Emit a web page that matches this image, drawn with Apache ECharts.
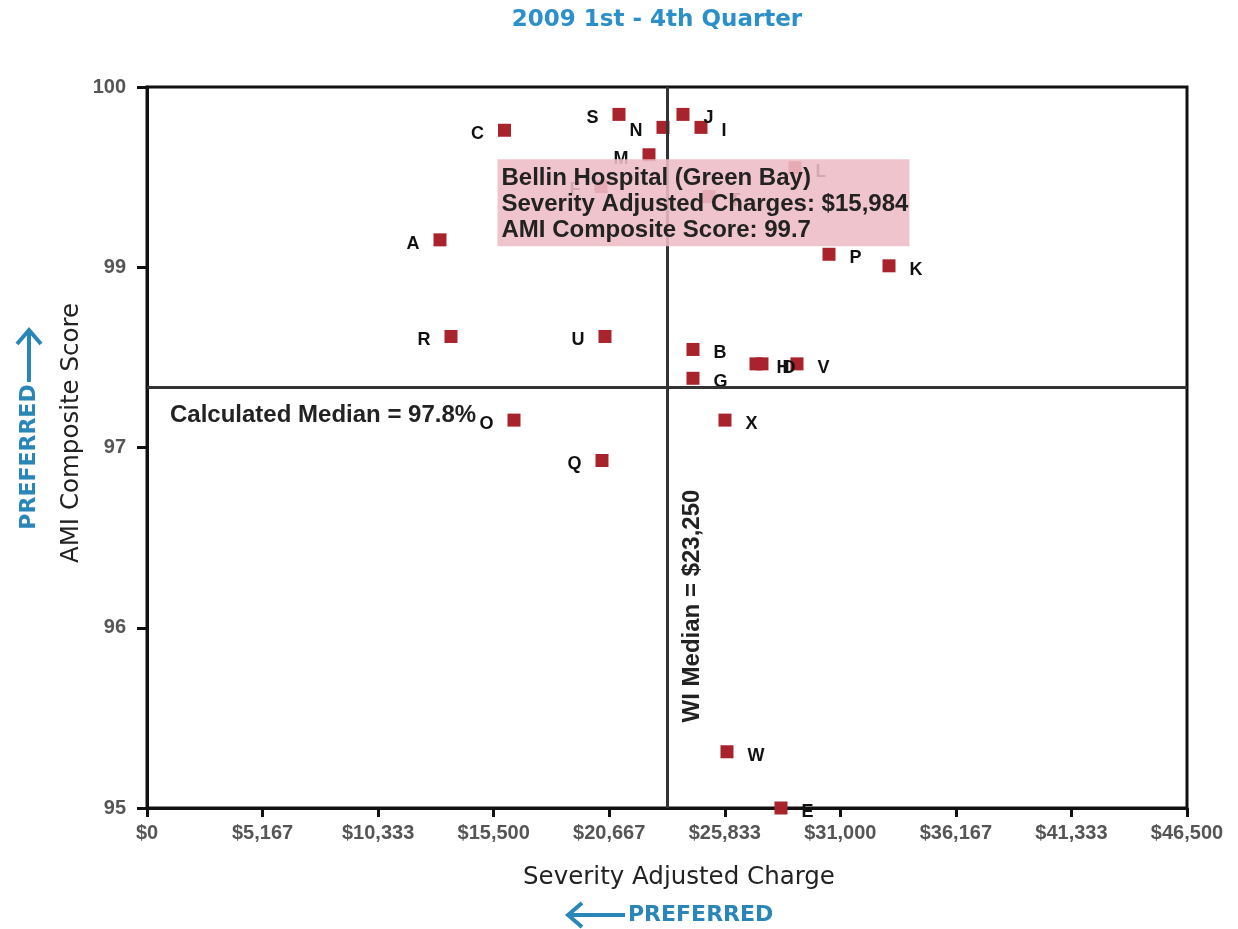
<!DOCTYPE html>
<html><head><meta charset="utf-8">
<script src="https://cdn.jsdelivr.net/npm/echarts@6/dist/echarts.min.js"></script>
<style>html,body{margin:0;padding:0;background:#fff}#c{width:1238px;height:929px}</style>
</head><body><div id="c"></div>
<script>
// ---------- DATA ----------
const categories = ['A','B','C','D','E','F','G','H','I','J','K','L','M','N','O','P','Q','R','S','T','U','V','W','X'];
const charges = [13100,24412,15984,27497,28347,20299,24412,27229,24770,23965,33176,28973,22445,23071,16409,30493,20343,13592,21103,25127,20477,29062,25932,25843];
const scores  = [98.94,98.18,99.70,98.08,95.00,99.31,97.98,98.08,99.72,99.81,98.76,99.44,99.53,99.72,97.69,98.84,97.41,98.27,99.81,99.24,98.27,98.08,95.39,97.69];
const xTickLabels = ['$0','$5,167','$10,333','$15,500','$20,667','$25,833','$31,000','$36,167','$41,333','$46,500'];
const yTickValues = [95, 96.25, 97.5, 98.75, 100];
const yTickLabels = ['95','96','97','99','100'];
const wiMedianCharge = 23250;
const calcMedianScore = 97.92;
const medianYText = 'Calculated Median = 97.8%';
const medianXText = 'WI Median = $23,250';
const highlighted = 'C';
const highlightName = 'Bellin Hospital (Green Bay)';
const titleText = '2009 1st - 4th Quarter';
const xAxisTitle = 'Severity Adjusted Charge';
const yAxisTitle = 'AMI Composite Score';
const preferredText = 'PREFERRED';

// ---------- STYLE ----------
const leftLabelled = new Set(['A','C','F','M','N','O','Q','R','S','U']);
const xMax = 46500, xInterval = 46500/9;

const chart = echarts.init(document.getElementById('c'), null, {renderer:'canvas'});

const seriesData = categories.map((c,i)=>({
  name:c, value:[charges[i], scores[i]],
  label:{position: leftLabelled.has(c) ? 'left' : 'right'}
}));

chart.setOption({
  animation:false,
  backgroundColor:'#fff',
  grid:{left:147, right:51, top:87, bottom:121, show:true, borderColor:'#111', borderWidth:3, containLabel:false},
  xAxis:{
    type:'value', min:0, max:xMax, interval:xInterval,
    axisLine:{show:true, lineStyle:{color:'#111', width:3}},
    axisTick:{show:true, inside:false, length:9, lineStyle:{color:'#111', width:3}},
    splitLine:{show:false},
    axisLabel:{margin:15, color:'#555', fontFamily:'Liberation Sans', fontWeight:'bold', fontSize:20,
      formatter:(v)=>{const i=Math.round(v/xInterval); return xTickLabels[i]!==undefined?xTickLabels[i]:'';}}
  },
  yAxis:{
    type:'value', min:95, max:100, interval:1.25,
    axisLine:{show:true, lineStyle:{color:'#111', width:3}},
    axisTick:{show:true, inside:false, length:10, lineStyle:{color:'#111', width:3}},
    splitLine:{show:false},
    axisLabel:{margin:21, color:'#555', fontFamily:'Liberation Sans', fontWeight:'bold', fontSize:20,
      formatter:(v)=>{const i=yTickValues.findIndex(t=>Math.abs(t-v)<1e-6); return i>=0?yTickLabels[i]:'';}}
  },
  series:[{
    type:'scatter', symbol:'rect', symbolSize:13,
    itemStyle:{color:'#a8232b', opacity:1},
    data:seriesData,
    label:{show:true, formatter:'{b}', distance:14, offset:[0,4], color:'#111',
      fontFamily:'Liberation Sans', fontWeight:'bold', fontSize:18},
    markLine:{
      silent:true, symbol:'none', animation:false,
      lineStyle:{color:'#333', width:3, type:'solid'},
      label:{show:false},
      data:[{xAxis:wiMedianCharge},{yAxis:calcMedianScore}]
    },
    z:3
  }]
});

const mx = chart.convertToPixel({gridIndex:0},[wiMedianCharge, 95]);
const my = chart.convertToPixel({gridIndex:0},[0, calcMedianScore]);
const hi = categories.indexOf(highlighted);
const hp = chart.convertToPixel({gridIndex:0},[charges[hi], scores[hi]]);
const fmtMoney = v => '$' + v.toLocaleString('en-US');

const blue = '#2a86b8';
const boxX = hp[0]-7, boxY = hp[1]+29;
const tipFont = 'bold 24px "Liberation Sans"';

chart.setOption({
  graphic:[
    {type:'text', x:657, y:20, style:{text:titleText, font:'bold 23px "DejaVu Sans"', fill:'#2b8fc9', align:'center', verticalAlign:'middle'}},
    {type:'text', x:679, y:878, style:{text:xAxisTitle, font:'24.5px "DejaVu Sans"', fill:'#222', align:'center', verticalAlign:'middle'}},
    {type:'text', x:72, y:433, rotation:Math.PI/2, style:{text:yAxisTitle, font:'24.5px "DejaVu Sans"', fill:'#222', align:'center', verticalAlign:'middle'}},
    {type:'text', x:628, y:915, style:{text:preferredText, font:'bold 22px "DejaVu Sans"', fill:blue, align:'left', verticalAlign:'middle'}},
    {type:'polyline', shape:{points:[[568,915],[625,915]]}, style:{stroke:blue, lineWidth:4, fill:null}},
    {type:'polyline', shape:{points:[[582,903],[568,915],[582,927]]}, style:{stroke:blue, lineWidth:4, fill:null, lineJoin:'miter'}},
    {type:'text', x:29, y:457, rotation:Math.PI/2, style:{text:preferredText, font:'bold 22px "DejaVu Sans"', fill:blue, align:'center', verticalAlign:'middle'}},
    {type:'polyline', shape:{points:[[29,382],[29,330]]}, style:{stroke:blue, lineWidth:4, fill:null}},
    {type:'polyline', shape:{points:[[17,344],[29,330],[41,344]]}, style:{stroke:blue, lineWidth:4, fill:null, lineJoin:'miter'}},
    {type:'text', x:170, y:my[1]+28, style:{text:medianYText, font:'bold 24px "Liberation Sans"', fill:'#222', align:'left', verticalAlign:'middle'}},
    {type:'text', x:mx[0]+25, y:606, rotation:Math.PI/2, style:{text:medianXText, font:'bold 24px "Liberation Sans"', fill:'#222', align:'center', verticalAlign:'middle'}},
    {type:'group', z:100, children:[
      {type:'rect', shape:{x:boxX, y:boxY, width:412, height:87}, style:{fill:'rgba(238,188,197,0.885)'}, z:100},
      {type:'text', x:boxX+4, y:boxY+19, z:101, style:{text:highlightName, font:tipFont, fill:'#222', align:'left', verticalAlign:'middle'}},
      {type:'text', x:boxX+4, y:boxY+45, z:101, style:{text:'Severity Adjusted Charges: '+fmtMoney(charges[hi]), font:tipFont, fill:'#222', align:'left', verticalAlign:'middle'}},
      {type:'text', x:boxX+4, y:boxY+71, z:101, style:{text:'AMI Composite Score: '+scores[hi].toFixed(1), font:tipFont, fill:'#222', align:'left', verticalAlign:'middle'}}
    ]}
  ]
});
</script>
</body></html>
